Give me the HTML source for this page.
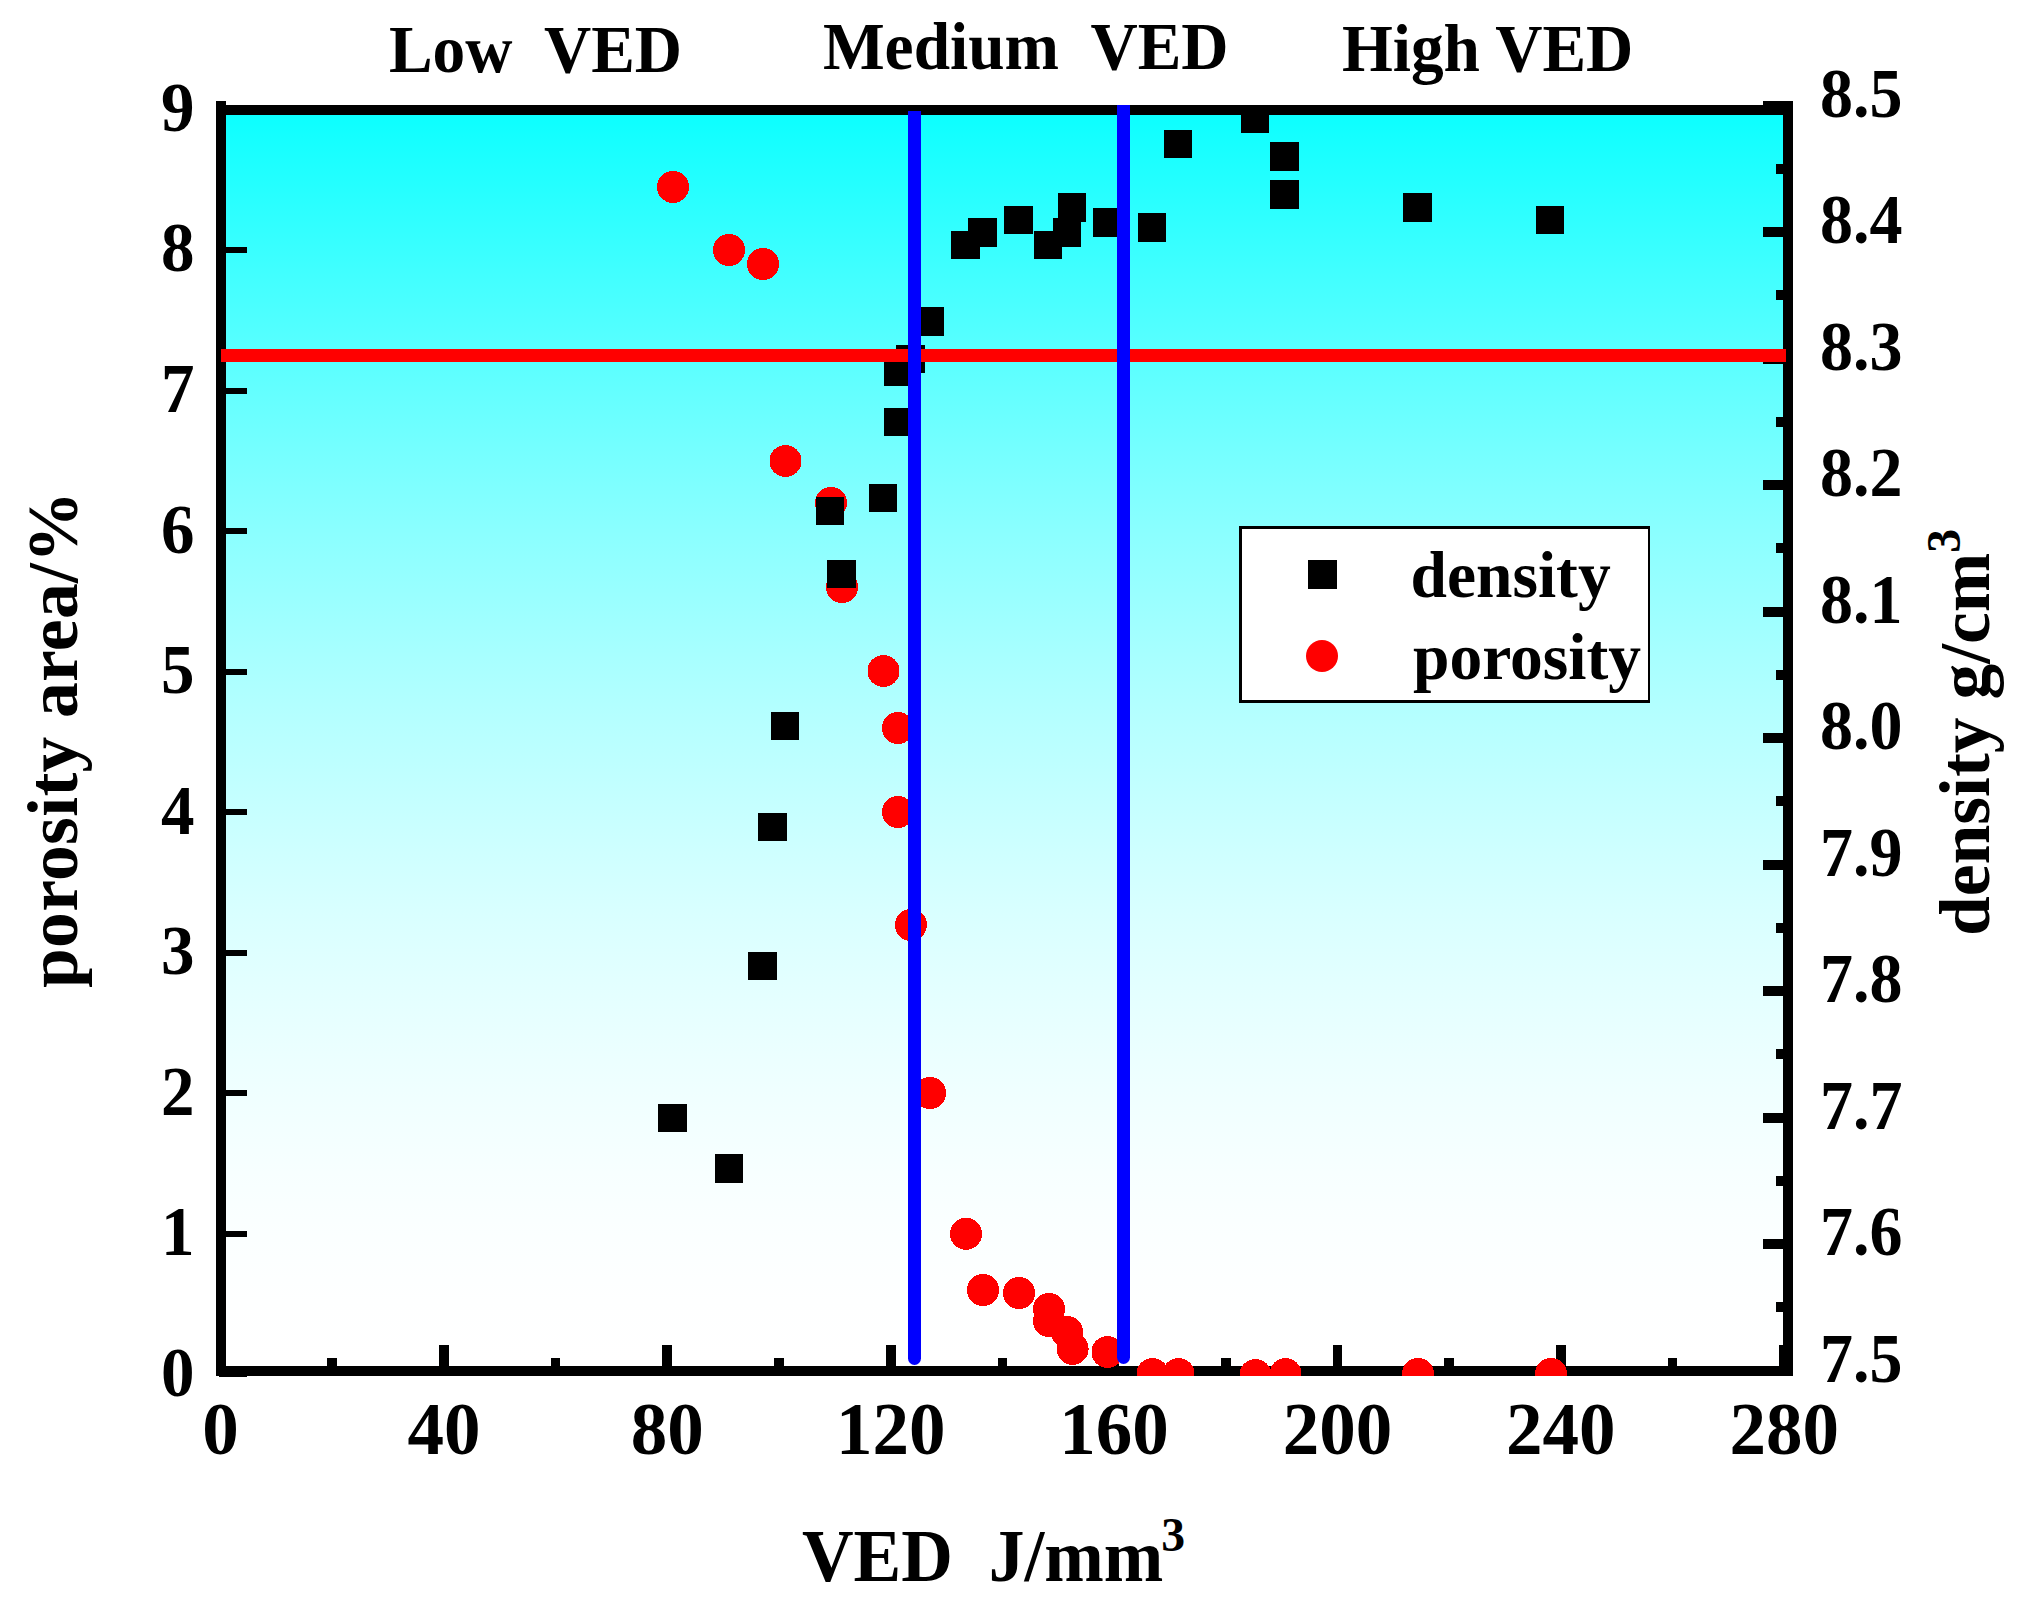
<!DOCTYPE html>
<html><head><meta charset="utf-8"><title>VED chart</title>
<style>html,body{margin:0;padding:0;background:#fff;}body{width:2022px;height:1608px;overflow:hidden;}svg{display:block;}text{font-family:"Liberation Serif","Times New Roman",serif;font-weight:bold;fill:#000;}</style>
</head><body>
<svg width="2022" height="1608" viewBox="0 0 2022 1608">
<defs>
<linearGradient id="bg" gradientUnits="userSpaceOnUse" x1="0" y1="80.8" x2="0" y2="1365.0">
<stop offset="0.000" stop-color="rgb(0.0,255,255)"/>
<stop offset="0.050" stop-color="rgb(22.5,255,255)"/>
<stop offset="0.100" stop-color="rgb(44.1,255,255)"/>
<stop offset="0.150" stop-color="rgb(64.7,255,255)"/>
<stop offset="0.200" stop-color="rgb(84.4,255,255)"/>
<stop offset="0.250" stop-color="rgb(103.1,255,255)"/>
<stop offset="0.300" stop-color="rgb(120.8,255,255)"/>
<stop offset="0.350" stop-color="rgb(137.6,255,255)"/>
<stop offset="0.400" stop-color="rgb(153.3,255,255)"/>
<stop offset="0.450" stop-color="rgb(168.1,255,255)"/>
<stop offset="0.500" stop-color="rgb(181.8,255,255)"/>
<stop offset="0.550" stop-color="rgb(194.4,255,255)"/>
<stop offset="0.600" stop-color="rgb(206.0,255,255)"/>
<stop offset="0.650" stop-color="rgb(216.5,255,255)"/>
<stop offset="0.700" stop-color="rgb(225.8,255,255)"/>
<stop offset="0.750" stop-color="rgb(234.0,255,255)"/>
<stop offset="0.800" stop-color="rgb(240.9,255,255)"/>
<stop offset="0.850" stop-color="rgb(246.6,255,255)"/>
<stop offset="0.900" stop-color="rgb(251.0,255,255)"/>
<stop offset="0.950" stop-color="rgb(253.8,255,255)"/>
<stop offset="1.000" stop-color="rgb(255.0,255,255)"/>
</linearGradient>
<clipPath id="pc"><rect x="216" y="101" width="1577" height="1275"/></clipPath>
</defs>
<rect x="0" y="0" width="2022" height="1608" fill="#ffffff"/>
<rect x="216" y="105" width="1577" height="1271" fill="url(#bg)"/>
<rect x="216" y="101" width="10" height="1275" fill="#000" shape-rendering="crispEdges"/>
<rect x="1783" y="101" width="10" height="1275" fill="#000" shape-rendering="crispEdges"/>
<rect x="216" y="105" width="1577" height="10" fill="#000" shape-rendering="crispEdges"/>
<rect x="216" y="1366" width="1577" height="10" fill="#000" shape-rendering="crispEdges"/>
<rect x="215.60" y="1345" width="9.7" height="21" fill="#000" shape-rendering="crispEdges"/>
<rect x="327.30" y="1358" width="9.7" height="8" fill="#000" shape-rendering="crispEdges"/>
<rect x="439.00" y="1345" width="9.7" height="21" fill="#000" shape-rendering="crispEdges"/>
<rect x="550.70" y="1358" width="9.7" height="8" fill="#000" shape-rendering="crispEdges"/>
<rect x="662.40" y="1345" width="9.7" height="21" fill="#000" shape-rendering="crispEdges"/>
<rect x="774.10" y="1358" width="9.7" height="8" fill="#000" shape-rendering="crispEdges"/>
<rect x="885.80" y="1345" width="9.7" height="21" fill="#000" shape-rendering="crispEdges"/>
<rect x="997.50" y="1358" width="9.7" height="8" fill="#000" shape-rendering="crispEdges"/>
<rect x="1109.20" y="1345" width="9.7" height="21" fill="#000" shape-rendering="crispEdges"/>
<rect x="1220.90" y="1358" width="9.7" height="8" fill="#000" shape-rendering="crispEdges"/>
<rect x="1332.60" y="1345" width="9.7" height="21" fill="#000" shape-rendering="crispEdges"/>
<rect x="1444.30" y="1358" width="9.7" height="8" fill="#000" shape-rendering="crispEdges"/>
<rect x="1556.00" y="1345" width="9.7" height="21" fill="#000" shape-rendering="crispEdges"/>
<rect x="1667.70" y="1358" width="9.7" height="8" fill="#000" shape-rendering="crispEdges"/>
<rect x="1779.40" y="1345" width="9.7" height="21" fill="#000" shape-rendering="crispEdges"/>
<rect x="219" y="1371" width="28" height="6" fill="#000" shape-rendering="crispEdges"/>
<rect x="219" y="1231" width="28" height="6" fill="#000" shape-rendering="crispEdges"/>
<rect x="219" y="1090" width="28" height="6" fill="#000" shape-rendering="crispEdges"/>
<rect x="219" y="950" width="28" height="6" fill="#000" shape-rendering="crispEdges"/>
<rect x="219" y="809" width="28" height="6" fill="#000" shape-rendering="crispEdges"/>
<rect x="219" y="669" width="28" height="6" fill="#000" shape-rendering="crispEdges"/>
<rect x="219" y="528" width="28" height="6" fill="#000" shape-rendering="crispEdges"/>
<rect x="219" y="388" width="28" height="6" fill="#000" shape-rendering="crispEdges"/>
<rect x="219" y="247" width="28" height="6" fill="#000" shape-rendering="crispEdges"/>
<rect x="219" y="107" width="28" height="6" fill="#000" shape-rendering="crispEdges"/>
<rect x="1763" y="100.50" width="20" height="10" fill="#000" shape-rendering="crispEdges"/>
<rect x="1776" y="163.75" width="7" height="10" fill="#000" shape-rendering="crispEdges"/>
<rect x="1763" y="227.00" width="20" height="10" fill="#000" shape-rendering="crispEdges"/>
<rect x="1776" y="290.25" width="7" height="10" fill="#000" shape-rendering="crispEdges"/>
<rect x="1763" y="353.50" width="20" height="10" fill="#000" shape-rendering="crispEdges"/>
<rect x="1776" y="416.75" width="7" height="10" fill="#000" shape-rendering="crispEdges"/>
<rect x="1763" y="480.00" width="20" height="10" fill="#000" shape-rendering="crispEdges"/>
<rect x="1776" y="543.25" width="7" height="10" fill="#000" shape-rendering="crispEdges"/>
<rect x="1763" y="606.50" width="20" height="10" fill="#000" shape-rendering="crispEdges"/>
<rect x="1776" y="669.75" width="7" height="10" fill="#000" shape-rendering="crispEdges"/>
<rect x="1763" y="733.00" width="20" height="10" fill="#000" shape-rendering="crispEdges"/>
<rect x="1776" y="796.25" width="7" height="10" fill="#000" shape-rendering="crispEdges"/>
<rect x="1763" y="859.50" width="20" height="10" fill="#000" shape-rendering="crispEdges"/>
<rect x="1776" y="922.75" width="7" height="10" fill="#000" shape-rendering="crispEdges"/>
<rect x="1763" y="986.00" width="20" height="10" fill="#000" shape-rendering="crispEdges"/>
<rect x="1776" y="1049.25" width="7" height="10" fill="#000" shape-rendering="crispEdges"/>
<rect x="1763" y="1112.50" width="20" height="10" fill="#000" shape-rendering="crispEdges"/>
<rect x="1776" y="1175.75" width="7" height="10" fill="#000" shape-rendering="crispEdges"/>
<rect x="1763" y="1239.00" width="20" height="10" fill="#000" shape-rendering="crispEdges"/>
<rect x="1776" y="1302.25" width="7" height="10" fill="#000" shape-rendering="crispEdges"/>
<rect x="1763" y="1365.50" width="20" height="10" fill="#000" shape-rendering="crispEdges"/>
<g clip-path="url(#pc)">
<circle cx="673.00" cy="186.90" r="16.0" fill="#ff0000" shape-rendering="crispEdges"/>
<circle cx="729.00" cy="250.00" r="16.0" fill="#ff0000" shape-rendering="crispEdges"/>
<circle cx="763.00" cy="264.00" r="16.0" fill="#ff0000" shape-rendering="crispEdges"/>
<circle cx="785.50" cy="461.00" r="16.0" fill="#ff0000" shape-rendering="crispEdges"/>
<circle cx="831.00" cy="502.90" r="16.0" fill="#ff0000" shape-rendering="crispEdges"/>
<circle cx="842.00" cy="587.00" r="16.0" fill="#ff0000" shape-rendering="crispEdges"/>
<circle cx="883.50" cy="671.00" r="16.0" fill="#ff0000" shape-rendering="crispEdges"/>
<circle cx="897.90" cy="728.00" r="16.0" fill="#ff0000" shape-rendering="crispEdges"/>
<circle cx="897.90" cy="812.00" r="16.0" fill="#ff0000" shape-rendering="crispEdges"/>
<circle cx="910.90" cy="924.90" r="16.0" fill="#ff0000" shape-rendering="crispEdges"/>
<circle cx="930.00" cy="1093.00" r="16.0" fill="#ff0000" shape-rendering="crispEdges"/>
<circle cx="966.00" cy="1233.80" r="16.0" fill="#ff0000" shape-rendering="crispEdges"/>
<circle cx="983.00" cy="1290.00" r="16.0" fill="#ff0000" shape-rendering="crispEdges"/>
<circle cx="1019.00" cy="1293.00" r="16.0" fill="#ff0000" shape-rendering="crispEdges"/>
<circle cx="1049.00" cy="1309.00" r="16.0" fill="#ff0000" shape-rendering="crispEdges"/>
<circle cx="1049.00" cy="1321.00" r="16.0" fill="#ff0000" shape-rendering="crispEdges"/>
<circle cx="1067.00" cy="1332.00" r="16.0" fill="#ff0000" shape-rendering="crispEdges"/>
<circle cx="1072.60" cy="1348.80" r="16.0" fill="#ff0000" shape-rendering="crispEdges"/>
<circle cx="1107.50" cy="1352.00" r="16.0" fill="#ff0000" shape-rendering="crispEdges"/>
<circle cx="1152.50" cy="1374.00" r="16.0" fill="#ff0000" shape-rendering="crispEdges"/>
<circle cx="1178.50" cy="1374.00" r="16.0" fill="#ff0000" shape-rendering="crispEdges"/>
<circle cx="1255.50" cy="1375.00" r="16.0" fill="#ff0000" shape-rendering="crispEdges"/>
<circle cx="1285.50" cy="1374.00" r="16.0" fill="#ff0000" shape-rendering="crispEdges"/>
<circle cx="1418.00" cy="1374.00" r="16.0" fill="#ff0000" shape-rendering="crispEdges"/>
<circle cx="1551.00" cy="1374.00" r="16.0" fill="#ff0000" shape-rendering="crispEdges"/>
<rect x="658.20" y="1103.70" width="28.6" height="28.6" fill="#000" shape-rendering="crispEdges"/>
<rect x="714.70" y="1154.20" width="28.6" height="28.6" fill="#000" shape-rendering="crispEdges"/>
<rect x="748.20" y="951.70" width="28.6" height="28.6" fill="#000" shape-rendering="crispEdges"/>
<rect x="758.20" y="812.70" width="28.6" height="28.6" fill="#000" shape-rendering="crispEdges"/>
<rect x="770.70" y="711.70" width="28.6" height="28.6" fill="#000" shape-rendering="crispEdges"/>
<rect x="815.70" y="496.60" width="28.6" height="28.6" fill="#000" shape-rendering="crispEdges"/>
<rect x="827.20" y="559.60" width="28.6" height="28.6" fill="#000" shape-rendering="crispEdges"/>
<rect x="868.70" y="483.70" width="28.6" height="28.6" fill="#000" shape-rendering="crispEdges"/>
<rect x="883.70" y="407.70" width="28.6" height="28.6" fill="#000" shape-rendering="crispEdges"/>
<rect x="883.70" y="357.50" width="28.6" height="28.6" fill="#000" shape-rendering="crispEdges"/>
<rect x="896.20" y="344.60" width="28.6" height="28.6" fill="#000" shape-rendering="crispEdges"/>
<rect x="915.60" y="307.10" width="28.6" height="28.6" fill="#000" shape-rendering="crispEdges"/>
<rect x="951.20" y="230.70" width="28.6" height="28.6" fill="#000" shape-rendering="crispEdges"/>
<rect x="968.20" y="218.10" width="28.6" height="28.6" fill="#000" shape-rendering="crispEdges"/>
<rect x="1004.20" y="205.70" width="28.6" height="28.6" fill="#000" shape-rendering="crispEdges"/>
<rect x="1033.70" y="230.70" width="28.6" height="28.6" fill="#000" shape-rendering="crispEdges"/>
<rect x="1052.70" y="218.10" width="28.6" height="28.6" fill="#000" shape-rendering="crispEdges"/>
<rect x="1057.70" y="193.00" width="28.6" height="28.6" fill="#000" shape-rendering="crispEdges"/>
<rect x="1092.70" y="208.20" width="28.6" height="28.6" fill="#000" shape-rendering="crispEdges"/>
<rect x="1137.70" y="213.10" width="28.6" height="28.6" fill="#000" shape-rendering="crispEdges"/>
<rect x="1163.70" y="129.70" width="28.6" height="28.6" fill="#000" shape-rendering="crispEdges"/>
<rect x="1240.70" y="104.50" width="28.6" height="28.6" fill="#000" shape-rendering="crispEdges"/>
<rect x="1270.20" y="142.10" width="28.6" height="28.6" fill="#000" shape-rendering="crispEdges"/>
<rect x="1270.20" y="180.20" width="28.6" height="28.6" fill="#000" shape-rendering="crispEdges"/>
<rect x="1403.20" y="193.00" width="28.6" height="28.6" fill="#000" shape-rendering="crispEdges"/>
<rect x="1535.70" y="205.70" width="28.6" height="28.6" fill="#000" shape-rendering="crispEdges"/>
</g>
<rect x="221" y="349" width="1565" height="13" fill="#ff0000" shape-rendering="crispEdges"/>
<path d="M908 111 L921 111 L921 1358.5 A6.5 6.5 0 0 1 908 1358.5 Z" fill="#0000ff"/>
<path d="M1117 105 L1130 105 L1130 1357.5 A6.5 6.5 0 0 1 1117 1357.5 Z" fill="#0000ff"/>
<rect x="1239" y="526" width="411" height="177" fill="#000" shape-rendering="crispEdges"/>
<rect x="1242" y="529" width="406" height="171" fill="#fff" shape-rendering="crispEdges"/>
<rect x="1308" y="560" width="29" height="29" fill="#000" shape-rendering="crispEdges"/>
<circle cx="1322" cy="656" r="16" fill="#ff0000"/>
<text x="1410.5" y="597" font-size="65.5">density</text>
<text x="1413" y="679" font-size="65.5">porosity</text>
<text transform="translate(194.5,1395.9) scale(1,1.045)" font-size="67" text-anchor="end">0</text>
<text transform="translate(194.5,1255.3) scale(1,1.045)" font-size="67" text-anchor="end">1</text>
<text transform="translate(194.5,1114.8) scale(1,1.045)" font-size="67" text-anchor="end">2</text>
<text transform="translate(194.5,974.2) scale(1,1.045)" font-size="67" text-anchor="end">3</text>
<text transform="translate(194.5,833.6) scale(1,1.045)" font-size="67" text-anchor="end">4</text>
<text transform="translate(194.5,693.0) scale(1,1.045)" font-size="67" text-anchor="end">5</text>
<text transform="translate(194.5,552.5) scale(1,1.045)" font-size="67" text-anchor="end">6</text>
<text transform="translate(194.5,411.9) scale(1,1.045)" font-size="67" text-anchor="end">7</text>
<text transform="translate(194.5,271.3) scale(1,1.045)" font-size="67" text-anchor="end">8</text>
<text transform="translate(194.5,130.8) scale(1,1.045)" font-size="67" text-anchor="end">9</text>
<text transform="translate(1820,116.5) scale(1,1.055)" font-size="66">8.5</text>
<text transform="translate(1820,243.0) scale(1,1.055)" font-size="66">8.4</text>
<text transform="translate(1820,369.5) scale(1,1.055)" font-size="66">8.3</text>
<text transform="translate(1820,496.0) scale(1,1.055)" font-size="66">8.2</text>
<text transform="translate(1820,622.5) scale(1,1.055)" font-size="66">8.1</text>
<text transform="translate(1820,749.0) scale(1,1.055)" font-size="66">8.0</text>
<text transform="translate(1820,875.5) scale(1,1.055)" font-size="66">7.9</text>
<text transform="translate(1820,1002.0) scale(1,1.055)" font-size="66">7.8</text>
<text transform="translate(1820,1128.5) scale(1,1.055)" font-size="66">7.7</text>
<text transform="translate(1820,1255.0) scale(1,1.055)" font-size="66">7.6</text>
<text transform="translate(1820,1381.5) scale(1,1.055)" font-size="66">7.5</text>
<text transform="translate(220.4,1454.3) scale(1,1.020)" font-size="73" text-anchor="middle">0</text>
<text transform="translate(443.9,1454.3) scale(1,1.020)" font-size="73" text-anchor="middle">40</text>
<text transform="translate(667.2,1454.3) scale(1,1.020)" font-size="73" text-anchor="middle">80</text>
<text transform="translate(890.7,1454.3) scale(1,1.020)" font-size="73" text-anchor="middle">120</text>
<text transform="translate(1114.0,1454.3) scale(1,1.020)" font-size="73" text-anchor="middle">160</text>
<text transform="translate(1337.4,1454.3) scale(1,1.020)" font-size="73" text-anchor="middle">200</text>
<text transform="translate(1560.8,1454.3) scale(1,1.020)" font-size="73" text-anchor="middle">240</text>
<text transform="translate(1784.2,1454.3) scale(1,1.020)" font-size="73" text-anchor="middle">280</text>
<text transform="translate(388.9,71.8) scale(1,1.02)" font-size="65.4" xml:space="preserve">Low  VED</text>
<text transform="translate(822.9,68.8) scale(1,1.02)" font-size="65.4" xml:space="preserve">Medium  VED</text>
<text transform="translate(1341.9,70.8) scale(1,1.02)" font-size="65.4" xml:space="preserve">High VED</text>
<text transform="translate(802,1581) scale(1,1.025)" font-size="71.5" xml:space="preserve">VED  J/mm</text>
<text x="1161.3" y="1551.1" font-size="47.7">3</text>
<text transform="translate(77,988) rotate(-90)" x="0" y="0" font-size="71.5" textLength="496.7" lengthAdjust="spacing">porosity area/%</text>
<text transform="translate(1989,936) rotate(-90)" x="0" y="0" font-size="71.5" xml:space="preserve">density g/cm<tspan dy="-29.5" font-size="47.7">3</tspan></text>
</svg>
</body></html>
